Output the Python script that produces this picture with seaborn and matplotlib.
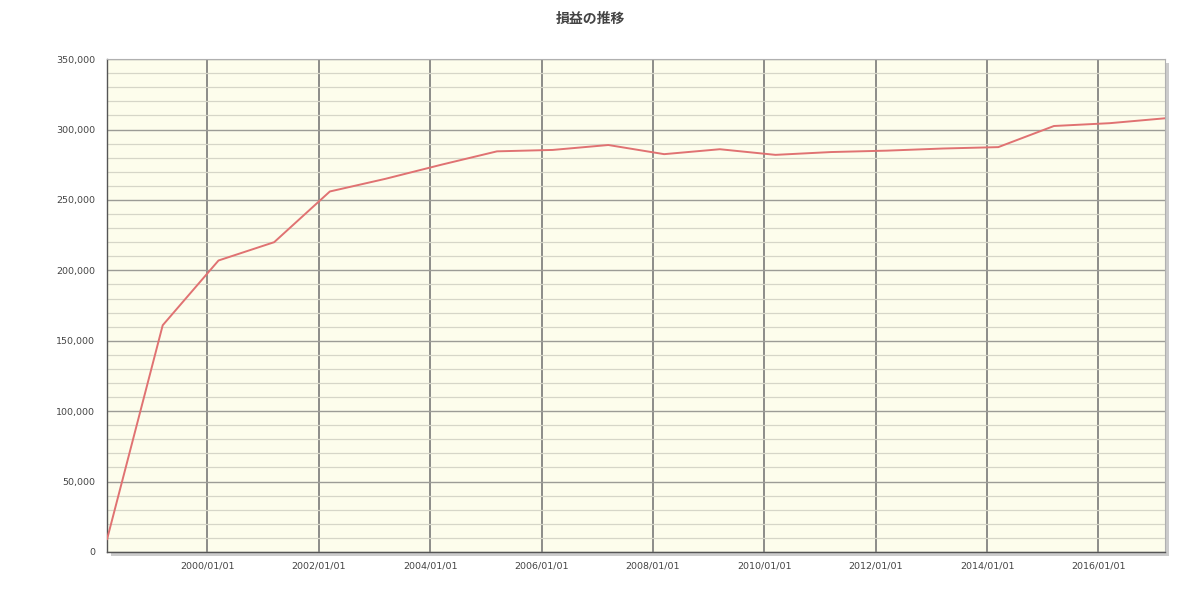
import numpy as np
import pandas as pd
import matplotlib
matplotlib.use("Agg")
import matplotlib.pyplot as plt
import matplotlib.dates as mdates
from matplotlib.ticker import FuncFormatter, MultipleLocator
import seaborn as sns

# data (one point per year, around mid March)
dates = ["1998-03-15", "1999-03-15", "2000-03-15", "2001-03-15", "2002-03-15",
         "2003-03-15", "2004-03-15", "2005-03-15", "2006-03-15", "2007-03-15",
         "2008-03-15", "2009-03-15", "2010-03-15", "2011-03-15", "2012-03-15",
         "2013-03-15", "2014-03-15", "2015-03-15", "2016-03-15", "2017-03-15"]
profit = [9000, 161000, 207000, 220000, 256000,
          265000, 275000, 284500, 285500, 289000,
          282500, 286000, 282000, 284000, 285000,
          286500, 287500, 302500, 304500, 308000]
title = "損益の推移"

df = pd.DataFrame({"date": pd.to_datetime(dates), "profit": profit})

sns.set_style("white")
plt.rcParams["font.family"] = ["DejaVu Sans"]

fig = plt.figure(figsize=(12, 5.91), dpi=100)
ax = fig.add_axes([0.0892, 0.066, 0.882, 0.834])
ax.set_facecolor("#fdfdec")

# drop shadow on right / bottom
shadow = fig.add_axes([0.0892 + 0.003, 0.066 - 0.006, 0.882, 0.834], zorder=-1)
shadow.set_facecolor("#cccccc")
shadow.set_xticks([])
shadow.set_yticks([])
for s in shadow.spines.values():
    s.set_visible(False)

sns.lineplot(data=df, x="date", y="profit", ax=ax, color="#e07272", linewidth=1.4, zorder=3)

ax.set_xlim(df["date"].iloc[0], df["date"].iloc[-1])
ax.set_ylim(0, 350000)

ax.yaxis.set_major_locator(MultipleLocator(50000))
ax.yaxis.set_minor_locator(MultipleLocator(10000))
ax.yaxis.set_major_formatter(FuncFormatter(lambda v, p: f"{int(v):,}"))
ax.xaxis.set_major_locator(mdates.YearLocator(2, month=1, day=1))
ax.xaxis.set_major_formatter(mdates.DateFormatter("%Y/%m/%d"))

ax.grid(which="major", axis="x", color="#6e6e6e", linewidth=1.1)
ax.grid(which="major", axis="y", color="#9c9c96", linewidth=1.0)
ax.grid(which="minor", axis="y", color="#d6d6c8", linewidth=0.9)
ax.set_axisbelow(True)

ax.tick_params(axis="both", which="major", labelsize=6.8, colors="#555555",
               length=5, width=0.8, direction="out")
ax.tick_params(axis="x", which="major", length=3)
ax.tick_params(which="minor", length=0)
for lab in ax.get_xticklabels() + ax.get_yticklabels():
    lab.set_color("#444444")

ax.set_xlabel("")
ax.set_ylabel("")
for side in ["top", "right"]:
    ax.spines[side].set_color("#b0b0b0")
    ax.spines[side].set_linewidth(0.8)
for side in ["left", "bottom"]:
    ax.spines[side].set_color("#555555")
    ax.spines[side].set_linewidth(1.0)

fig.text(0.492, 0.968, title, ha="center", va="center", fontsize=10,
         fontweight="bold", color="#444444",
         family=["Noto Sans CJK JP", "DejaVu Sans"])

fig.savefig("out.png", dpi=100, facecolor="white")
